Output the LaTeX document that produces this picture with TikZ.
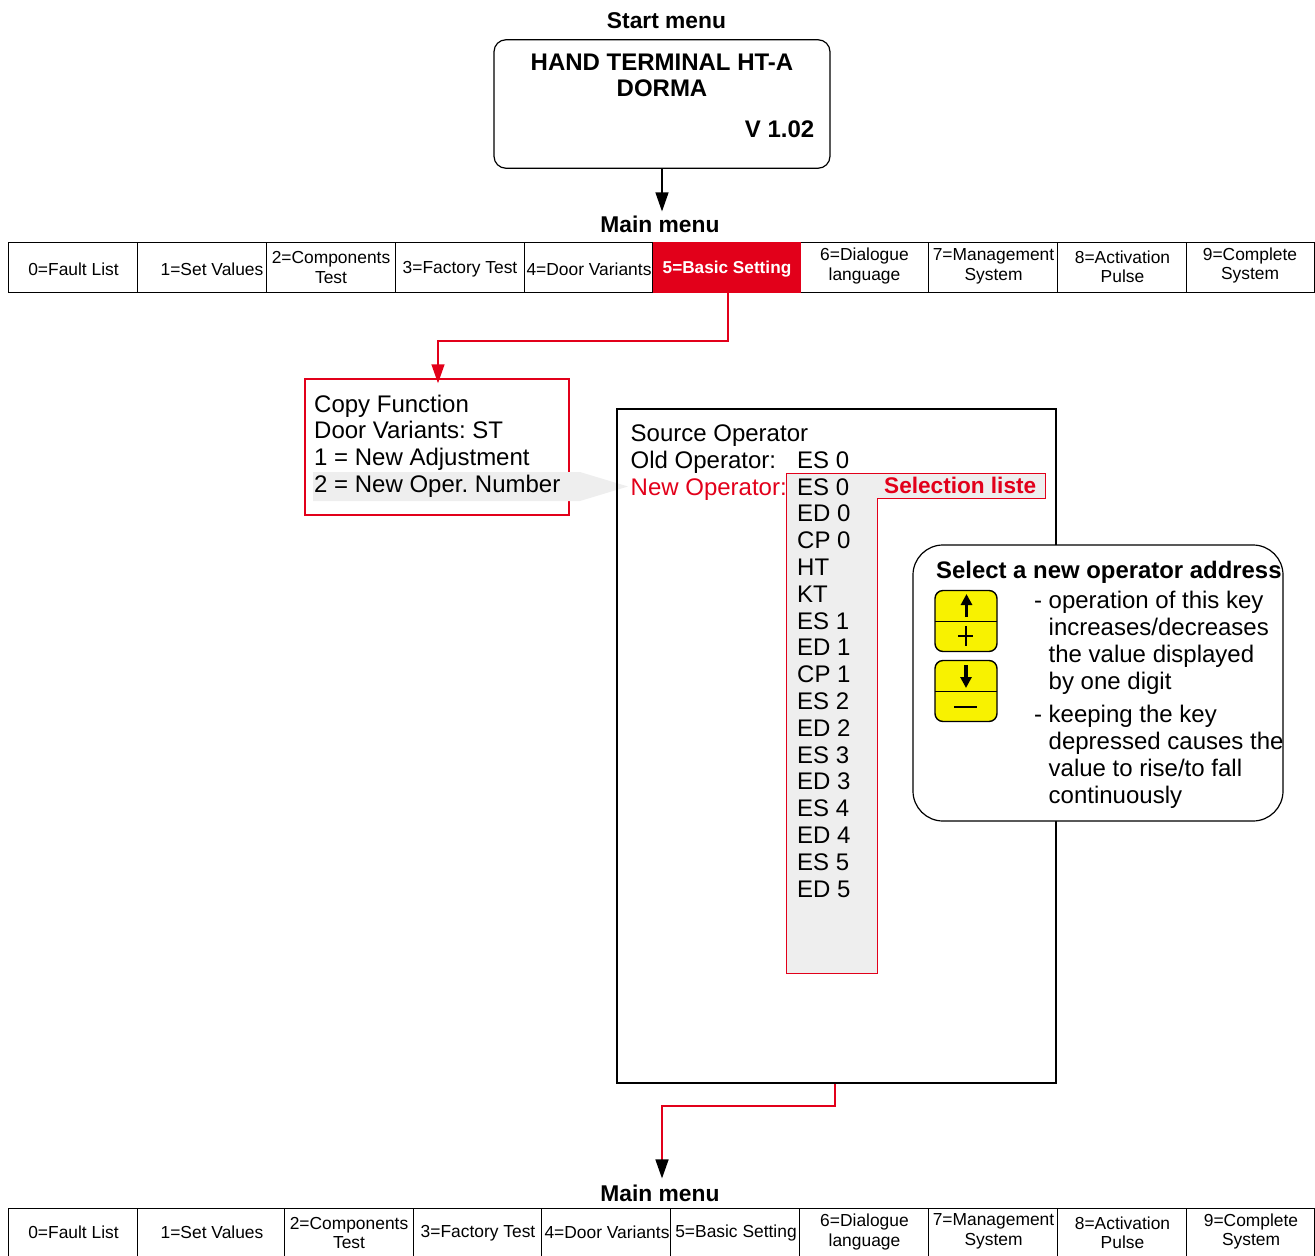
\documentclass[tikz,border=0pt]{standalone}
\usepackage{fontspec}
\setmainfont{Liberation Sans}
\usetikzlibrary{arrows.meta}
\definecolor{dormared}{HTML}{E2001A}
\definecolor{keyyellow}{HTML}{F8F200}
\definecolor{listgray}{HTML}{EEEEEE}
\tikzset{
    menucell/.style = {draw, line width = 1pt, inner sep = 0pt},
    menutext/.style = {align = center, inner sep = 0pt, font = \fontsize{17.4}{19.5}\selectfont},
    headtext/.style = {inner sep = 1pt, font = \fontsize{22.8}{25}\bfseries\selectfont},
    bodytext/.style = {anchor = base west, inner sep = 0pt, font = \fontsize{24}{26}\selectfont},
    redline/.style = {draw = dormared, line width = 1.5pt},
    bigtip/.tip = {Triangle[width = 13pt, length = 19pt]}
}
\frenchspacing
\begin{document}
\begin{tikzpicture}[x = 1pt, y = -1pt]
    \useasboundingbox (0, 0) rectangle (1315, 1256);
    \node[headtext] (startlabel) at (666.5, 20.5) {Start menu};
    \node[draw, line width = 1.2pt, rounded corners = 12pt, minimum width = 336pt, minimum height = 128.5pt] (startbox) at (662, 104) {};
    \node[anchor = north, align = center, inner sep = 0pt, font = \fontsize{24}{26}\bfseries\selectfont] (starttitle) at (662, 53.5) {HAND TERMINAL HT-A\\DORMA};
    \node[anchor = base east, inner sep = 0pt, font = \fontsize{24}{26}\bfseries\selectfont] (startversion) at (814.5, 137) {V 1.02};
    \node[headtext] (maintop) at (660, 224) {Main menu};
    \node[headtext] (mainbottom) at (660, 1193) {Main menu};
    \draw[line width = 1.2pt, shorten >= 3pt, -bigtip] (startbox.south) -- (startbox.south |- maintop.north);
    \foreach \i/\xa/\xb/\xt/\yt/\txt in {0/9/138/73.5/269/0=Fault List, 1/138/267/212/269/1=Set Values, 2/267/396/331/267.5/{2=Components\\Test}, 3/396/525/460/269/3=Factory Test, 4/525/653/589/269/4=Door Variants, 6/800/929/864.5/266/{6=Dialogue\\language}, 7/929/1058/993.5/266.5/{7=Management\\System}, 8/1058/1187/1122.5/267/{8=Activation\\Pulse}, 9/1187/1315/1250/265.5/{9=Complete\\System}}{
        \node[menucell, minimum width = {(\xb - \xa) * 1pt}, minimum height = 50pt] (top\i) at ({(\xa + \xb) / 2 - 0.25}, 267.5) {};
        \node[menutext] (toptext\i) at (\xt, \yt) {\txt};
    }
    \node[menucell, draw = dormared, fill = dormared, minimum width = 147pt, minimum height = 50pt] (top5) at (726.5, 267.5) {};
    \node[menutext, text = white, font = \fontsize{17.2}{19}\bfseries\selectfont] (toptext5) at (727, 269) {5=Basic Setting};
    \foreach \i/\xa/\xb/\xt/\yt/\txt in {0/9/138/73.5/1232/0=Fault List, 1/138/285/212/1232/1=Set Values, 2/285/414/349/1233/{2=Components\\Test}, 3/414/542/478/1233/3=Factory Test, 4/542/671/607/1232/4=Door Variants, 5/671/800/736/1233/5=Basic Setting, 6/800/929/864.5/1232/{6=Dialogue\\language}, 7/929/1058/993.5/1231.5/{7=Management\\System}, 8/1058/1187/1122.5/1233/{8=Activation\\Pulse}, 9/1187/1315/1251/1231.5/{9=Complete\\System}}{
        \node[menucell, minimum width = {(\xb - \xa) * 1pt}, minimum height = 50pt] (bot\i) at ({(\xa + \xb) / 2 - 0.25}, 1233) {};
        \node[menutext] (bottext\i) at (\xt, \yt) {\txt};
    }
    \node[draw = dormared, line width = 1.5pt, minimum width = 264pt, minimum height = 136pt] (copybox) at (437, 447) {};
    \fill[listgray] (313, 472) -- (580, 472) -- (628, 486.5) -- (580, 501) -- (313, 501) -- cycle;
    \node[bodytext] (copya) at (314, 412) {Copy Function};
    \node[bodytext] (copyb) at (314, 438) {Door Variants: ST};
    \node[bodytext] (copyc) at (314, 465) {1 = New Adjustment};
    \node[bodytext] (copyd) at (314, 492) {2 = New Oper. Number};
    \draw[redline, shorten >= -5pt, -{bigtip[color = dormared]}] ([xshift = 1.5pt] top5.south) -- ++(0, 48) -| ([xshift = 1pt] copybox.north);
    \node[draw, line width = 1.3pt, minimum width = 439pt, minimum height = 674pt] (sourcebox) at (836.5, 746) {};
    \filldraw[draw = dormared, fill = listgray, line width = 0.9pt] (786, 473) -- (1045, 473) -- (1045, 498) -- (877, 498) -- (877, 973) -- (786, 973) -- cycle;
    \node[bodytext] (sourcea) at (630.5, 441) {Source Operator};
    \node[bodytext] (sourceb) at (630.5, 468) {Old Operator:};
    \node[bodytext] (sourcec) at (797, 468) {ES 0};
    \node[bodytext, text = dormared] (sourced) at (630.5, 495) {New Operator:};
    \node[bodytext, text = dormared, font = \fontsize{22.6}{25}\bfseries\selectfont] (selectlabel) at (884, 493) {Selection liste};
    \foreach \txt [count = \i from 0] in {ES 0, ED 0, CP 0, HT, KT, ES 1, ED 1, CP 1, ES 2, ED 2, ES 3, ED 3, ES 4, ED 4, ES 5, ED 5}{
        \node[bodytext] (item\i) at (797, 495 + \i * 26.8) {\txt};
    }
    \node[draw, fill = white, line width = 1.2pt, rounded corners = 30pt, minimum width = 370pt, minimum height = 276pt] (infobox) at (1098, 683) {};
    \node[bodytext, font = \fontsize{23.9}{26}\bfseries\selectfont] (infotitle) at (936, 578) {Select a new operator address};
    \node[bodytext] (dasha) at (1034, 608) {-};
    \node[bodytext] (dashb) at (1034, 722) {-};
    \foreach \yb/\txt [count = \i] in {608/operation of this key, 635/{increases/decreases}, 662/the value displayed, 689/by one digit, 722/keeping the key, 749/depressed causes the, 776/{value to rise/to fall}, 803/continuously}{
        \node[bodytext] (info\i) at (1048.5, \yb) {\txt};
    }
    \foreach \yc in {621.5, 691.5}{
        \filldraw[fill = keyyellow, line width = 1.4pt, rounded corners = 8pt] (935, \yc - 31) rectangle (997, \yc + 30);
        \draw[line width = 1.3pt] (935, \yc) -- (997, \yc);
    }
    \draw[line width = 3.2pt, -{Triangle[width = 11pt, length = 11pt]}] (966.5, 617) -- (966.5, 594);
    \draw[line width = 3.2pt, -{Triangle[width = 11pt, length = 11pt]}] (966, 665) -- (966, 688);
    \draw[line width = 2pt] (958, 636) -- (973, 636) (965.5, 626) -- (965.5, 646);
    \draw[line width = 2pt] (954, 707) -- (977, 707);
    \draw[redline, shorten >= 5pt, -{bigtip[color = black]}] ([xshift = -1.5pt] sourcebox.south) -- ++(0, 22.5) -| (startbox.south |- mainbottom.north);
\end{tikzpicture}
\end{document}
